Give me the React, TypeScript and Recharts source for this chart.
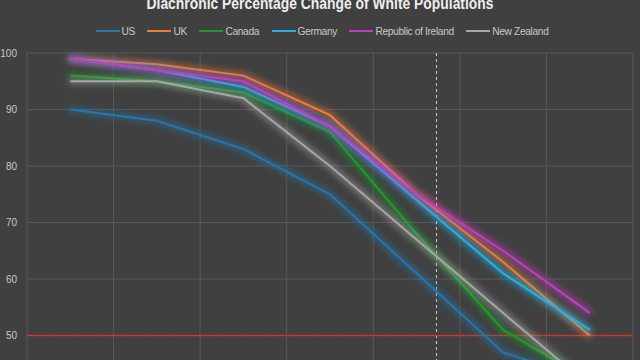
import React from "react";
import { LineChart, Line, XAxis, YAxis, CartesianGrid, Legend, ReferenceLine } from "recharts";

const categories = ["1980", "1990", "2000", "2010", "2020", "2030", "2040"];
const usValues = [90, 88, 83, 75, 61, 47, 42];
const ukValues = [99, 98, 96, 89, 75, 63, 50];
const canadaValues = [96, 95, 93, 86, 68, 51, 42];
const germanyValues = [99, 97, 94, 87, 74, 61, 51];
const irelandValues = [99, 97, 95, 87, 75, 65, 54];
const nzValues = [95, 95, 92, 80, 67, 54, 41];
const yTicks = [50, 60, 70, 80, 90, 100];
const thresholdValue = 50;
const presentMarker = 5.23; // position in category units

const series = [
  { key: "US", color: "#2576ab", values: usValues },
  { key: "UK", color: "#f07f36", values: ukValues },
  { key: "Canada", color: "#1f9a2a", values: canadaValues },
  { key: "Germany", color: "#1fb2ec", values: germanyValues },
  { key: "Republic of Ireland", color: "#c23cc0", values: irelandValues },
  { key: "New Zealand", color: "#a6a6a6", values: nzValues },
];

const data = categories.map((c, i) => {
  const row: Record<string, number | string> = { idx: i + 1, year: c };
  series.forEach((s) => {
    row[s.key] = s.values[i];
  });
  return row;
});

const bounds = [...categories.map((_, i) => i + 0.5), categories.length + 0.5];

const LegendContent = () => (
  <div
    style={{
      display: "flex",
      justifyContent: "center",
      alignItems: "center",
      height: 16,
      gap: 12.5,
      fontFamily: "'Liberation Sans', Arial, sans-serif",
      fontSize: 10.2,
      color: "#c8c8c8",
      letterSpacing: -0.35,
      paddingLeft: 4,
    }}
  >
    {series.map((s) => (
      <div key={s.key} style={{ display: "flex", alignItems: "center" }}>
        <svg width={24} height={10} style={{ display: "block" }}>
          <line x1={0} y1={5} x2={24} y2={5} stroke={s.color} strokeWidth={2} />
        </svg>
        <span style={{ marginLeft: 2, whiteSpace: "nowrap" }}>{s.key}</span>
      </div>
    ))}
  </div>
);

export default function App() {
  return (
    <div
      style={{
        position: "absolute",
        left: 0,
        top: 0,
        width: 640,
        height: 360,
        overflow: "hidden",
        background: "#404040",
      }}
    >
      <LineChart
        width={640}
        height={412}
        data={data}
        margin={{ top: 37, right: 7, bottom: 0, left: 0 }}
      >
        <defs>
          <filter id="glow" filterUnits="userSpaceOnUse" x={-20} y={-20} width={700} height={460}>
            <feMorphology in="SourceGraphic" operator="dilate" radius={1.5} result="d" />
            <feGaussianBlur in="d" stdDeviation={3.2} result="b" />
            <feComponentTransfer in="b" result="g">
              <feFuncA type="linear" slope={0.5} />
            </feComponentTransfer>
            <feMerge>
              <feMergeNode in="g" />
              <feMergeNode in="SourceGraphic" />
            </feMerge>
          </filter>
        </defs>
        <text
          x={320}
          y={9}
          textAnchor="middle"
          fill="#eeeeee"
          fontSize={17}
          fontWeight="bold"
          fontFamily="'Liberation Sans', Arial, sans-serif"
          textLength={347}
          lengthAdjust="spacingAndGlyphs"
        >
          Diachronic Percentage Change of White Populations
        </text>
        <CartesianGrid stroke="#585858" strokeWidth={1} />
        <XAxis
          type="number"
          dataKey="idx"
          domain={[0.5, categories.length + 0.5]}
          ticks={bounds}
          tickFormatter={() => ""}
          axisLine={false}
          tickLine={false}
          height={20}
        />
        <YAxis
          type="number"
          domain={[40, 100]}
          ticks={yTicks}
          width={27}
          axisLine={false}
          tickLine={false}
          tickMargin={4}
          tick={{ fill: "#c8c8c8", fontSize: 10, fontFamily: "'Liberation Sans', Arial, sans-serif" }}
        />
        <Legend
          verticalAlign="top"
          height={16}
          wrapperStyle={{ top: 23, left: 0, width: 640 }}
          content={<LegendContent />}
        />
        <ReferenceLine x={presentMarker} stroke="#cfcfcf" strokeDasharray="3 3" strokeWidth={1} />
        <ReferenceLine y={thresholdValue} stroke="#ff2a1a" strokeDasharray="2 1" strokeWidth={1.5} />
        {series.map((s) => (
          <Line
            key={s.key}
            type="linear"
            dataKey={s.key}
            stroke={s.color}
            strokeWidth={2}
            dot={false}
            activeDot={false}
            isAnimationActive={false}
            filter="url(#glow)"
          />
        ))}
      </LineChart>
    </div>
  );
}
